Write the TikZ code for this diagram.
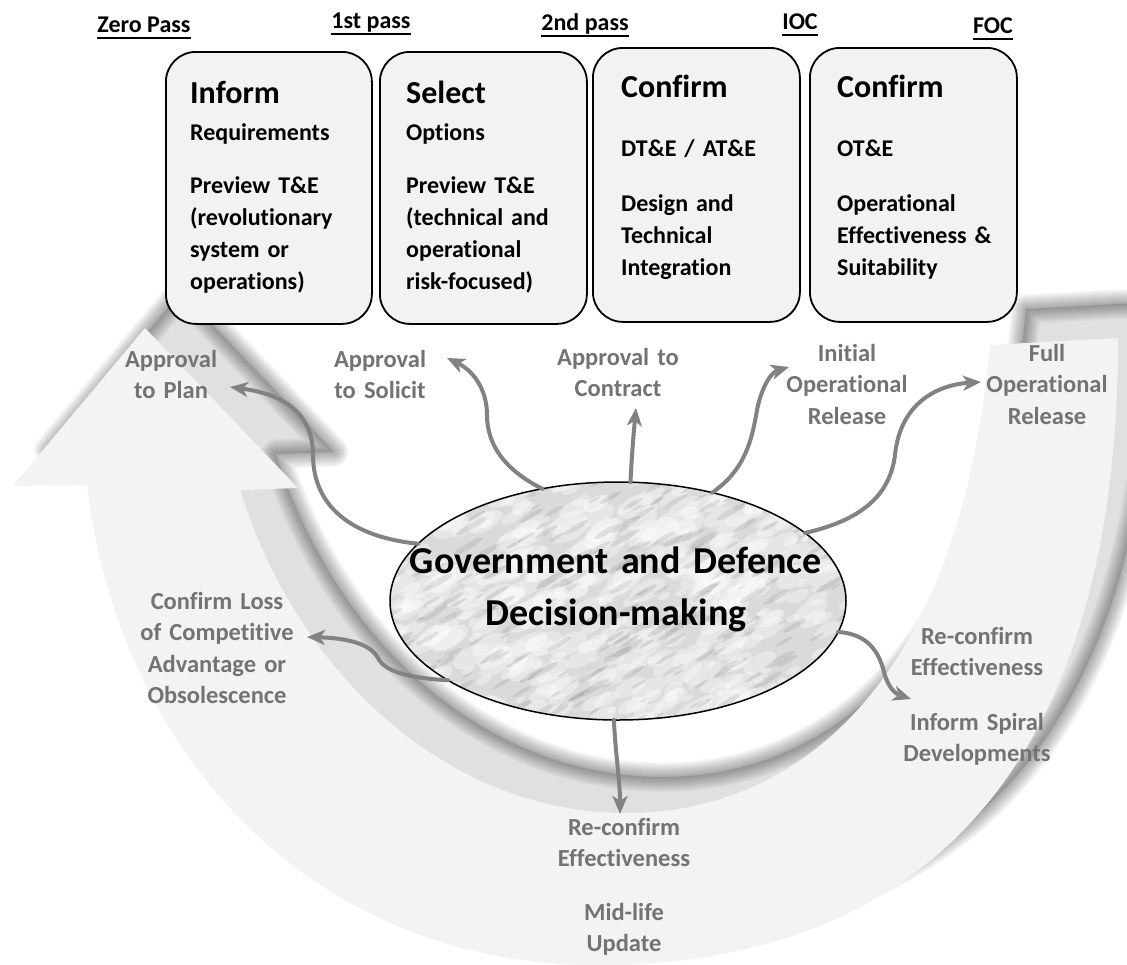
\documentclass[tikz,border=0pt]{standalone}
\usepackage{fontspec}
\setmainfont{Carlito}[Ligatures=NoCommon]
\usetikzlibrary{arrows.meta,shapes.geometric}
\definecolor{bandcol}{RGB}{243,243,243}
\definecolor{boxfill}{RGB}{242,242,242}
\definecolor{conncol}{RGB}{130,130,130}
\definecolor{lblgray}{RGB}{115,115,115}
\definecolor{marblebase}{RGB}{218,218,218}
\newcommand{\hul}[1]{\setbox0=\hbox{#1}\rlap{\rule[-7pt]{\wd0}{1.6pt}}\box0}
\def\bandpath{(87,485) -- (13,486) -- (145,328) -- (298,488) -- (240,490)
  .. controls (300,680) and (450,810) .. (620,813)
  .. controls (800,816) and (960,680) .. (990,345)
  -- (1118,338)
  .. controls (1118,760) and (930,955) .. (620,965)
  .. controls (320,975) and (120,760) .. (87,485) -- cycle}
\begin{document}
\begin{tikzpicture}[x=1pt,y=-1pt,
  stagebox/.style={draw=black, line width=1.8pt, rounded corners=30pt, fill=boxfill, anchor=north west, inner sep=0pt},
  hdr/.style={font=\bfseries\fontsize{24}{28}\selectfont, anchor=base, inner sep=0pt},
  ttl/.style={font=\bfseries\fontsize{32}{36}\selectfont, anchor=base west, inner sep=0pt},
  body/.style={font=\bfseries\fontsize{24}{32}\selectfont, anchor=base west, inner sep=0pt, text width=178pt, align=left},
  lbl/.style={font=\bfseries\fontsize{24.5}{31.5}\selectfont, text=lblgray, anchor=base, inner sep=0pt, text width=220pt, align=center},
  conn/.style={draw=conncol, line width=4pt, line cap=round, -{Stealth[length=18pt,width=15pt,inset=5pt]}},
  shadowstroke/.style={draw=black, opacity=0.024, line join=round, shift={(36,-36)}}
]
\useasboundingbox (0,0) rectangle (1127,964);
\fill[white] (0,0) rectangle (1127,964);

% --- big U-shaped arrow with its soft shadow
\fill[black, opacity=0.12, shift={(36,-36)}] \bandpath;
\foreach \w in {2,4,...,30}{
  \path[shadowstroke, line width=\w pt] \bandpath;
}
\fill[bandcol] \bandpath;

% --- central ellipse
\node[ellipse, minimum width=456pt, minimum height=238pt, inner sep=0pt, outer sep=0pt] (gov) at (618,601) {};
\begin{scope}
  \clip (gov.center) ellipse [x radius=228, y radius=119];
  \fill[marblebase] (380,470) rectangle (860,735);
  \pgfmathsetseed{5}
  \foreach \i in {1,...,520}{
    \pgfmathsetmacro\px{385+470*rnd}
    \pgfmathsetmacro\py{475+255*rnd}
    \pgfmathsetmacro\rr{3+11*rnd}
    \fill[white, opacity=0.33, rotate around={28:(\px,\py)}] (\px,\py) ellipse [x radius=1.5*\rr, y radius=0.7*\rr];
  }
  \foreach \i in {1,...,260}{
    \pgfmathsetmacro\px{385+470*rnd}
    \pgfmathsetmacro\py{475+255*rnd}
    \pgfmathsetmacro\rr{2+6*rnd}
    \fill[black!55, opacity=0.16, rotate around={30:(\px,\py)}] (\px,\py) ellipse [x radius=2.2*\rr, y radius=0.4*\rr];
  }
\end{scope}
\draw[line width=1.5pt] (gov.center) ellipse [x radius=228, y radius=119];
\node[font=\bfseries\fontsize{38}{52}\selectfont, text width=440pt, align=center, anchor=base, inner sep=0pt] (govtxt) at (616,573) {Government and Defence\\Decision-making};

% --- arrow tips
\coordinate (tA) at (230,387);
\coordinate (tB) at (447,358);
\coordinate (tC) at (636,408);
\coordinate (tD) at (789,367);
\coordinate (tE) at (981,382);
\coordinate (tF) at (307,637);
\coordinate (tG) at (911,699);
\coordinate (tH) at (620,814);

% --- connectors
\draw[conn] (gov.164) .. controls (350,537) and (313,505) .. (313,455) .. controls (313,412) and (282,394) .. (tA);
\draw[conn] (gov.124) .. controls (505,470) and (487,445) .. (487,415) .. controls (487,388) and (472,370) .. (tB);
\draw[conn] (gov.84) .. controls (632,450) and (634,430) .. (tC);
\draw[conn] (gov.49) .. controls (745,470) and (752,440) .. (757,410) .. controls (762,385) and (772,372) .. (tD);
\draw[conn] (gov.20) .. controls (862,520) and (890,495) .. (895,455) .. controls (900,405) and (935,385) .. (tE);
\draw[conn] (gov.205) .. controls (410,678) and (385,672) .. (378,658) .. controls (370,643) and (345,638) .. (tF);
\draw[conn] (gov.352) .. controls (868,634) and (879,652) .. (884,672) .. controls (888,688) and (896,694) .. (tG);
\draw[conn] (gov.268) .. controls (616,760) and (620,780) .. (tH);

% --- labels
\node[lbl] (lplan) at (171,367) {Approval\\to Plan};
\node[lbl] (lsol) at (380,367) {Approval\\to Solicit};
\node[lbl] (lcon) at (618,365) {Approval to\\Contract};
\node[lbl] (lioc) at (847,361) {Initial\\Operational\\Release};
\node[lbl] (lfoc) at (1047,361) {Full\\Operational\\Release};
\node[lbl] (lloss) at (217,609) {Confirm Loss\\of Competitive\\Advantage or\\Obsolescence};
\node[lbl] (lrc1) at (977,644) {Re-confirm\\Effectiveness};
\node[lbl] (lspiral) at (977,730) {Inform Spiral\\Developments};
\node[lbl] (lrc2) at (624,835) {Re-confirm\\Effectiveness};
\node[lbl] (lmid) at (624,920) {Mid-life\\Update};

% --- stage boxes
\node[stagebox, minimum width=206pt, minimum height=272pt] (b1) at (165,51) {};
\node[stagebox, minimum width=207pt, minimum height=272pt] (b2) at (379,51) {};
\node[stagebox, minimum width=207pt, minimum height=274pt] (b3) at (592,47) {};
\node[stagebox, minimum width=207pt, minimum height=274pt] (b4) at (809,47) {};

\node[ttl] (t1) at (190,103) {Inform};
\node[body] (r1) at (190,140) {Requirements};
\node[body] (p1) at (190,193) {Preview T\&E\\(revolutionary\\system or\\operations)};

\node[ttl] (t2) at (406,103) {Select};
\node[body] (r2) at (406,140) {Options};
\node[body] (p2) at (406,193) {Preview T\&E\\(technical and\\operational\\risk-focused)};

\node[ttl] (t3) at (621,97) {Confirm};
\node[body] (r3) at (621,156) {DT\&E / AT\&E};
\node[body] (p3) at (621,211) {Design and\\Technical\\Integration};

\node[ttl] (t4) at (837,97) {Confirm};
\node[body] (r4) at (837,156) {OT\&E};
\node[body] (p4) at (837,211) {Operational\\Effectiveness \&\\Suitability};

% --- headers
\node[hdr] (h0) at (144,32) {\hul{Zero Pass}};
\node[hdr] (h1) at (371,28) {\hul{1st pass}};
\node[hdr] (h2) at (585,30) {\hul{2nd pass}};
\node[hdr] (h3) at (800,29) {\hul{IOC}};
\node[hdr] (h4) at (993,33) {\hul{FOC}};
\end{tikzpicture}
\end{document}
